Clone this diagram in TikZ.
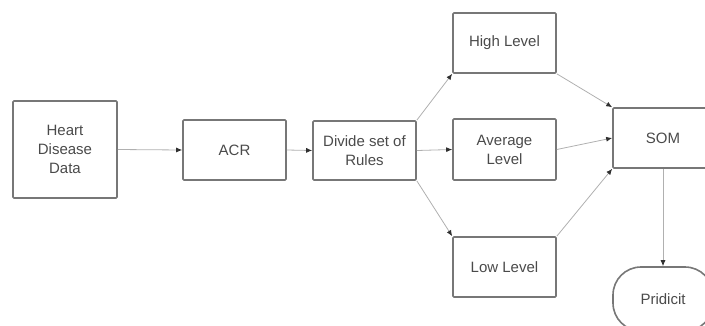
\documentclass[tikz,border=0pt]{standalone}
\usepackage{fontspec}
\setmainfont{Liberation Sans}
\usetikzlibrary{arrows.meta,shapes.misc}
\definecolor{boxc}{HTML}{777777}
\definecolor{txtc}{HTML}{4A4A4A}
\definecolor{linec}{HTML}{B0B0B0}
\definecolor{tipc}{HTML}{303030}
\begin{document}
\begin{tikzpicture}[x=1pt,y=-1pt,
  box/.style={draw=boxc,line width=1.6pt,rounded corners=1pt,inner sep=0pt,align=center,
    text=txtc,font=\fontsize{15}{19}\selectfont},
  conn/.style={draw=linec,line width=0.8pt,-{Latex[length=6pt,width=5pt,color=tipc]}}]
\useasboundingbox (0,0) rectangle (705,325);
\clip (0,0) rectangle (705,325);
\node[box,minimum width=104pt,minimum height=97pt] (heart) at (65,149.5) {Heart\\Disease\\Data};
\node[box,minimum width=103pt,minimum height=60pt] (acr) at (234.5,150) {ACR};
\node[box,minimum width=103pt,minimum height=59pt] (div) at (364.5,150.5) {Divide set of\\Rules};
\node[box,minimum width=103pt,minimum height=60pt] (high) at (504.5,43) {High Level};
\node[box,minimum width=103pt,minimum height=61pt] (avg) at (504.5,149.5) {Average\\Level};
\node[box,minimum width=103pt,minimum height=60pt] (low) at (504.5,267) {Low Level};
\node[box,minimum width=100pt,minimum height=60pt] (som) at (663,138) {SOM};
\node[box,rounded corners=28pt,minimum width=100pt,minimum height=64pt] (pred) at (663,299) {Pridicit};
\draw[conn] (heart.east) -- (acr.west);
\draw[conn] (acr.east) -- (div.west);
\draw[conn] (div.north east) -- (high.south west);
\draw[conn] (div.east) -- (avg.west);
\draw[conn] (div.south east) -- (low.north west);
\draw[conn] (high.south east) -- (som.north west);
\draw[conn] (avg.east) -- (som.west);
\draw[conn] (low.north east) -- (som.south west);
\draw[conn] (som.south) -- (pred.north);
\end{tikzpicture}
\end{document}
